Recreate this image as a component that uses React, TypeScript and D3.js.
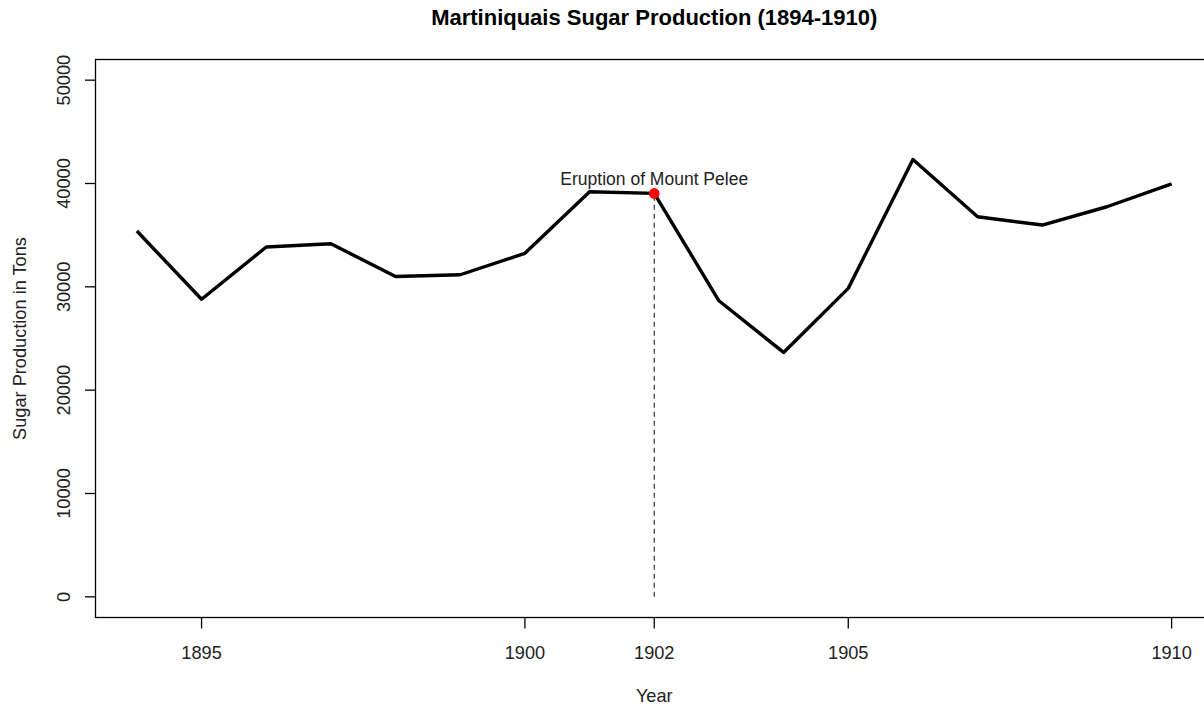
import React from "react";
import * as d3 from "d3";

const years = [1894, 1895, 1896, 1897, 1898, 1899, 1900, 1901, 1902, 1903, 1904, 1905, 1906, 1907, 1908, 1909, 1910];
const production = [35400, 28800, 33850, 34170, 31000, 31170, 33240, 39200, 39040, 28650, 23650, 29850, 42330, 36780, 35980, 37750, 39970];
const xTicks = [1895, 1900, 1902, 1905, 1910];
const yTicks = [0, 10000, 20000, 30000, 40000, 50000];
const eventYear = 1902;
const eventLabel = "Eruption of Mount Pelee";

export default function App() {
  const width = 1204;
  const height = 706;
  const font = "'Liberation Sans', Arial, sans-serif";

  // R style 4% padding on each side
  const xPad = (d3.max(years)! - d3.min(years)!) * 0.04;
  const xScale = d3
    .scaleLinear()
    .domain([d3.min(years)! - xPad, d3.max(years)! + xPad])
    .range([95.5, 1213]);

  const yScale = d3.scaleLinear().domain([-2000, 52000]).range([617.5, 59.5]);

  const line = d3
    .line<number>()
    .x((_, i) => xScale(years[i]))
    .y((d) => yScale(d));

  const eventIdx = years.indexOf(eventYear);
  const ex = xScale(eventYear);
  const ey = yScale(production[eventIdx]);

  const [x0, x1] = xScale.range();
  const [y0, y1] = yScale.range();

  return (
    <svg
      width={width}
      height={height}
      style={{ position: "absolute", left: 0, top: 0, background: "#fff" }}
      fontFamily={font}
    >
      <text x={(x0 + x1) / 2} y={25} textAnchor="middle" fontWeight="bold" fontSize={22} fill="#000">
        Martiniquais Sugar Production (1894-1910)
      </text>

      {/* box */}
      <rect x={x0} y={y1} width={x1 - x0} height={y0 - y1} fill="none" stroke="#000" strokeWidth={1.3} />

      {/* y axis */}
      {yTicks.map((t) => (
        <g key={t} transform={`translate(0, ${yScale(t)})`}>
          <line x1={85} x2={x0} y1={0} y2={0} stroke="#000" strokeWidth={1.3} />
          <text
            transform={`translate(70, 0) rotate(-90)`}
            textAnchor="middle"
            fontSize={18.2}
            fill="#222"
          >
            {t}
          </text>
        </g>
      ))}
      <text
        transform={`translate(26, ${(y0 + y1) / 2}) rotate(-90)`}
        textAnchor="middle"
        fontSize={18.2}
        fill="#222"
      >
        Sugar Production in Tons
      </text>

      {/* x axis */}
      {xTicks.map((t) => (
        <g key={t} transform={`translate(${xScale(t)}, 0)`}>
          <line x1={0} x2={0} y1={y0} y2={y0 + 11} stroke="#000" strokeWidth={1.3} />
          <text y={658.5} textAnchor="middle" fontSize={18.2} fill="#222">
            {t}
          </text>
        </g>
      ))}
      <text x={(x0 + x1) / 2} y={701.5} textAnchor="middle" fontSize={18.2} fill="#222">
        Year
      </text>

      {/* event marker */}
      <line
        x1={ex}
        x2={ex}
        y1={yScale(0)}
        y2={ey}
        stroke="#333"
        strokeWidth={1.2}
        strokeDasharray="5,4"
      />

      <path d={line(production) ?? ""} fill="none" stroke="#000" strokeWidth={3.4} strokeLinejoin="round" />

      <circle cx={ex} cy={ey} r={5.3} fill="#ff0000" />
      <text x={ex} y={ey - 8.5} textAnchor="middle" fontSize={17.5} fill="#222">
        {eventLabel}
      </text>
    </svg>
  );
}
